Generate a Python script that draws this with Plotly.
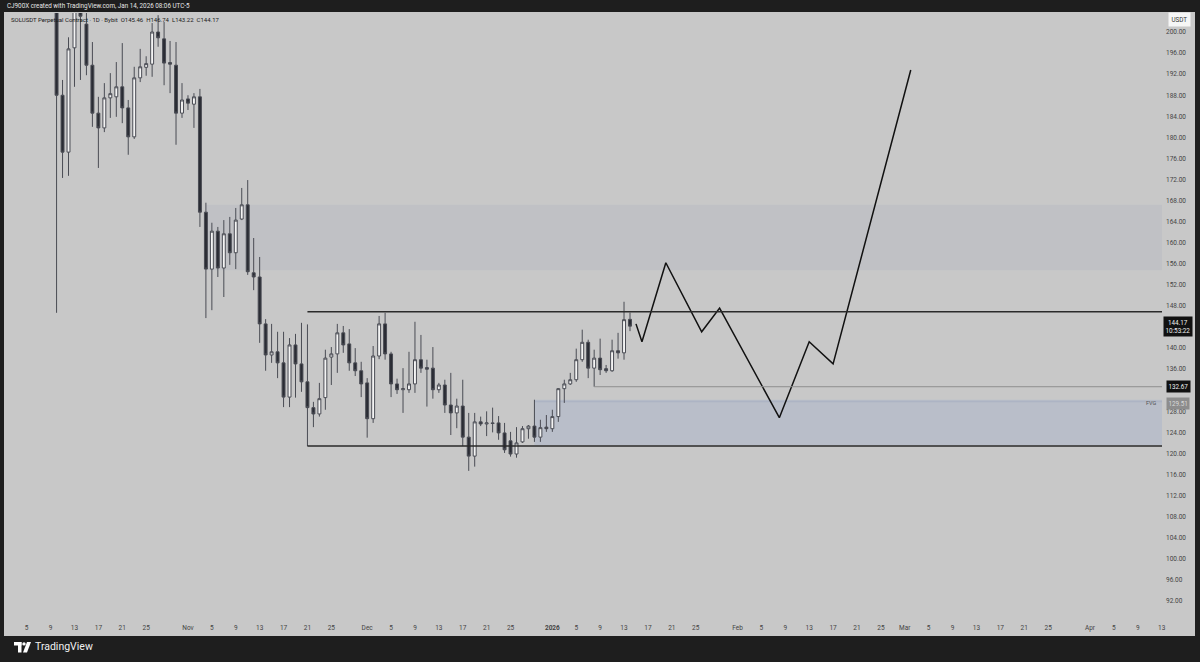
import plotly.graph_objects as go

# ---------------- data ----------------
dates = [
    "2025-10-10", "2025-10-11", "2025-10-12", "2025-10-13", "2025-10-14", "2025-10-15", "2025-10-16",
    "2025-10-17", "2025-10-18", "2025-10-19", "2025-10-20", "2025-10-21", "2025-10-22", "2025-10-23",
    "2025-10-24", "2025-10-25", "2025-10-26", "2025-10-27", "2025-10-28", "2025-10-29", "2025-10-30",
    "2025-10-31", "2025-11-01", "2025-11-02", "2025-11-03", "2025-11-04", "2025-11-05", "2025-11-06",
    "2025-11-07", "2025-11-08", "2025-11-09", "2025-11-10", "2025-11-11", "2025-11-12", "2025-11-13",
    "2025-11-14", "2025-11-15", "2025-11-16", "2025-11-17", "2025-11-18", "2025-11-19", "2025-11-20",
    "2025-11-21", "2025-11-22", "2025-11-23", "2025-11-24", "2025-11-25", "2025-11-26", "2025-11-27",
    "2025-11-28", "2025-11-29", "2025-11-30", "2025-12-01", "2025-12-02", "2025-12-03", "2025-12-04",
    "2025-12-05", "2025-12-06", "2025-12-07", "2025-12-08", "2025-12-09", "2025-12-10", "2025-12-11",
    "2025-12-12", "2025-12-13", "2025-12-14", "2025-12-15", "2025-12-16", "2025-12-17", "2025-12-18",
    "2025-12-19", "2025-12-20", "2025-12-21", "2025-12-22", "2025-12-23", "2025-12-24", "2025-12-25",
    "2025-12-26", "2025-12-27", "2025-12-28", "2025-12-29", "2025-12-30", "2025-12-31", "2026-01-01",
    "2026-01-02", "2026-01-03", "2026-01-04", "2026-01-05", "2026-01-06", "2026-01-07", "2026-01-08",
    "2026-01-09", "2026-01-10", "2026-01-11", "2026-01-12", "2026-01-13", "2026-01-14",
]
opens = [
    218.5, 188.0, 177.2, 197.0, 207.0, 201.5, 193.7,
    184.6, 181.8, 187.5, 187.7, 189.6, 185.6, 180.1,
    191.3, 193.3, 193.9, 200.0, 198.7, 194.2, 193.7,
    184.6, 187.3, 186.3, 187.7, 165.8, 155.0, 162.2,
    155.2, 161.7, 158.1, 164.5, 167.2, 154.3, 153.5,
    144.6, 138.7, 139.3, 137.2, 130.7, 140.6, 137.0,
    133.6, 128.7, 127.5, 130.6, 138.3, 138.9, 142.9,
    140.8, 137.2, 135.7, 133.4, 126.6, 138.5, 144.6,
    138.9, 133.2, 132.1, 132.1, 133.2, 137.8, 136.3,
    136.2, 132.1, 133.0, 129.2, 127.7, 129.0, 123.1,
    119.5, 126.0, 125.6, 125.8, 125.8, 123.9, 122.4,
    119.9, 122.2, 124.7, 125.2, 123.1, 125.0, 124.7,
    127.0, 132.3, 133.2, 134.0, 137.8, 141.1, 136.2,
    138.1, 136.1, 135.7, 139.5, 139.1, 145.46,
]
highs = [
    222.0, 190.9, 199.0, 210.0, 210.0, 204.5, 198.1,
    187.7, 190.3, 192.2, 194.3, 197.9, 187.1, 193.4,
    196.8, 195.4, 201.7, 203.2, 201.9, 198.3, 198.1,
    190.3, 188.0, 188.4, 189.2, 167.6, 163.8, 163.0,
    164.3, 164.9, 166.6, 170.4, 171.9, 160.9, 157.3,
    145.5, 144.6, 143.1, 143.1, 141.9, 142.7, 144.8,
    144.5, 129.8, 133.4, 139.7, 140.2, 144.6, 144.2,
    143.6, 140.0, 137.4, 134.3, 140.4, 146.1, 146.7,
    139.3, 134.2, 136.2, 139.3, 145.0, 142.5, 137.8,
    140.2, 133.4, 134.0, 135.3, 130.4, 134.0, 127.7,
    127.7, 127.0, 128.0, 128.7, 127.1, 125.8, 124.1,
    125.0, 125.2, 125.4, 130.2, 126.4, 127.3, 128.3,
    132.4, 134.0, 135.3, 139.9, 143.5, 141.6, 139.7,
    141.8, 136.8, 141.6, 142.9, 148.8, 146.74,
]
lows = [
    146.7, 172.3, 172.7, 189.6, 190.9, 191.8, 182.0,
    174.2, 181.0, 183.7, 183.9, 182.7, 176.7, 179.7,
    190.5, 191.7, 191.5, 197.2, 189.9, 188.4, 178.6,
    183.7, 185.2, 181.8, 163.0, 145.7, 147.2, 153.5,
    149.7, 155.8, 155.0, 164.3, 153.9, 151.0, 141.0,
    135.7, 137.2, 134.3, 128.8, 128.8, 130.6, 131.7,
    121.4, 125.0, 127.0, 128.3, 133.0, 135.3, 139.1,
    135.7, 134.7, 130.7, 123.0, 125.8, 137.9, 137.8,
    130.7, 131.3, 127.7, 131.5, 131.5, 135.3, 128.9,
    130.4, 131.5, 127.7, 123.5, 124.8, 121.4, 116.7,
    117.5, 125.2, 123.3, 124.0, 122.6, 120.1, 119.4,
    119.2, 122.0, 122.8, 122.2, 122.2, 124.1, 124.1,
    126.0, 129.6, 133.0, 133.6, 137.4, 134.3, 132.67,
    134.9, 135.3, 135.5, 138.0, 137.8, 143.22,
]
closes = [
    188.0, 177.2, 196.8, 206.0, 203.0, 193.7, 184.6,
    181.8, 187.5, 188.3, 189.6, 185.6, 180.1, 191.3,
    193.4, 194.0, 200.0, 198.9, 194.1, 193.9, 184.6,
    187.1, 186.5, 187.7, 165.8, 155.0, 162.2, 155.2,
    161.7, 158.1, 164.3, 167.2, 154.5, 153.5, 144.6,
    138.7, 139.3, 137.2, 130.7, 140.6, 137.0, 133.6,
    128.7, 127.5, 130.4, 138.1, 138.9, 142.9, 140.6,
    137.2, 135.7, 133.2, 126.6, 138.5, 144.6, 138.9,
    133.2, 132.1, 132.3, 133.2, 137.8, 136.2, 136.0,
    132.1, 133.0, 129.2, 127.7, 129.0, 123.1, 119.5,
    126.0, 125.6, 125.8, 125.7, 123.9, 120.7, 119.9,
    122.0, 124.7, 125.2, 123.1, 124.9, 124.7, 127.0,
    132.3, 133.2, 134.0, 137.8, 141.1, 136.2, 138.1,
    135.9, 135.7, 139.5, 139.1, 145.4, 144.17,
]

# projected path (drawn path)
proj_dates = ["2026-01-15", "2026-01-16", "2026-01-20", "2026-01-26", "2026-01-29",
              "2026-02-08", "2026-02-13", "2026-02-17", "2026-03-02"]
proj_prices = [144.6, 141.2, 156.2, 143.1, 147.6, 126.8, 141.2, 137.0, 192.8]

# zones / levels
supply_start, supply_low, supply_high = "2025-11-04", 154.8, 167.2
fvg_start, fvg_low, fvg_high = "2025-12-29", 121.6, 130.2
range_start, range_high, range_low = "2025-11-21", 146.9, 121.4
level_start, level_price = "2026-01-08", 132.67

last_price, countdown = 144.17, "10:53:22"
fvg_label = 129.51

price_ticks = [200, 196, 192, 188, 184, 180, 176, 172, 168, 164, 160, 156, 152, 148,
               140, 136, 128, 124, 120, 116, 112, 108, 104, 100, 96, 92]

tick_months = ["2025-10", "2025-11", "2025-12", "2026-01", "2026-02", "2026-03", "2026-04"]
tick_month_names = ["Oct", "Nov", "Dec", "<b>2026</b>", "Feb", "Mar", "Apr"]
tick_days = [5, 9, 13, 17, 21, 25]

x_start, x_end = "2025-10-01 04:48", "2026-04-13 01:30"
y_low, y_high = 88.58, 203.61

# ---------------- styling helpers ----------------
BG = "#c8c8c8"
DARK = "#1e1e1e"
PL, PR, PT, PB = 4, 1162, 13, 619  # plot area in pixels


def px(x):
    return (x - PL) / (PR - PL)


def py(y):
    return (PB - y) / (PB - PT)


tickvals, ticktext = [], []
for m, name in zip(tick_months, tick_month_names):
    tickvals.append(m + "-01")
    ticktext.append(name)
    for d in tick_days:
        if m == "2026-04" and d > 13:
            continue
        tickvals.append(f"{m}-{d:02d}")
        ticktext.append(str(d))
    if m == "2026-04":
        tickvals.append("2026-04-13")
        ticktext.append("13")

fig = go.Figure()

fig.add_trace(go.Candlestick(
    x=dates, open=opens, high=highs, low=lows, close=closes,
    increasing=dict(line=dict(color="#4a4c54", width=1), fillcolor="#f4f4f4"),
    decreasing=dict(line=dict(color="#4a4c54", width=1), fillcolor="#2a2c34"),
    whiskerwidth=0, showlegend=False, hoverinfo="skip",
))

fig.add_trace(go.Scatter(
    x=proj_dates, y=proj_prices, mode="lines",
    line=dict(color="#111111", width=1.5), showlegend=False, hoverinfo="skip",
))

shapes = [
    # chart panel background
    dict(type="rect", xref="paper", yref="paper", x0=px(4), x1=px(1195), y0=py(636), y1=py(12),
         fillcolor=BG, line=dict(width=0), layer="below"),
    # supply zone
    dict(type="rect", xref="x", yref="y", x0=supply_start, x1=x_end, y0=supply_low, y1=supply_high,
         fillcolor="#c0c1c5", line=dict(width=0), layer="below"),
    # FVG
    dict(type="rect", xref="x", yref="y", x0=fvg_start, x1=x_end, y0=fvg_low, y1=fvg_high,
         fillcolor="#b9bec9", line=dict(width=0), layer="below"),
    dict(type="line", xref="x", yref="y", x0=fvg_start, x1=x_end, y0=fvg_high - 0.35, y1=fvg_high - 0.35,
         line=dict(color="#adb4c4", width=1.5), layer="below"),
    # range lines
    dict(type="line", xref="x", yref="y", x0=range_start, x1=x_end, y0=range_high, y1=range_high,
         line=dict(color="#2a2a2a", width=1.3)),
    dict(type="line", xref="x", yref="y", x0=range_start, x1=x_end, y0=range_low, y1=range_low,
         line=dict(color="#2a2a2a", width=1.5)),
    # level line
    dict(type="line", xref="x", yref="y", x0=level_start, x1=x_end, y0=level_price, y1=level_price,
         line=dict(color="#8f8f8f", width=1)),
    # TradingView logo (bottom bar)
    dict(type="rect", xref="paper", yref="paper", x0=px(14), x1=px(21.5), y0=py(645.5), y1=py(642),
         fillcolor="#ffffff", line=dict(width=0)),
    dict(type="rect", xref="paper", yref="paper", x0=px(18), x1=px(21.5), y0=py(652.5), y1=py(642),
         fillcolor="#ffffff", line=dict(width=0)),
    dict(type="circle", xref="paper", yref="paper", x0=px(22.3), x1=px(25.7), y0=py(645.6), y1=py(642.2),
         fillcolor="#ffffff", line=dict(width=0)),
    dict(type="path", xref="paper", yref="paper",
         path=f"M {px(27)} {py(642)} L {px(31)} {py(642)} L {px(27)} {py(652.5)} L {px(23)} {py(652.5)} Z",
         fillcolor="#ffffff", line=dict(width=0)),
]

FONT = "Roboto, Inter, sans-serif"
annotations = [
    dict(xref="paper", yref="paper", x=px(5), y=py(6), xanchor="left", yanchor="middle",
         text="CJ900X created with TradingView.com, Jan 14, 2026 08:06 UTC-5",
         showarrow=False, font=dict(color="#e6e6e6", size=6.3, family=FONT)),
    dict(xref="paper", yref="paper", x=px(9), y=py(20), xanchor="left", yanchor="middle",
         text="SOLUSDT Perpetual Contract · 1D · Bybit  O145.46  H146.74  L143.22  C144.17",
         showarrow=False, font=dict(color="#1a1a1a", size=6.0, family=FONT)),
    dict(xref="paper", yref="paper", x=px(33), y=py(647), xanchor="left", yanchor="middle",
         text="TradingView", showarrow=False, font=dict(color="#f0f0f0", size=10.5, family=FONT)),
    dict(xref="paper", yref="paper", x=px(1179), y=py(20), xanchor="center", yanchor="middle",
         text="USDT", showarrow=False, bgcolor="#f6f6f6", borderpad=2.5,
         font=dict(color="#333333", size=6.3, family=FONT)),
    dict(xref="paper", yref="y", x=px(1178), y=last_price, xanchor="center", yanchor="middle",
         text=f"{last_price:.2f}<br>{countdown}", showarrow=False, bgcolor="#111111", borderpad=1.5,
         font=dict(color="#f0f0f0", size=6.3, family=FONT)),
    dict(xref="paper", yref="y", x=px(1178), y=level_price, xanchor="center", yanchor="middle",
         text=f"{level_price:.2f}", showarrow=False, bgcolor="#111111", borderpad=1.5,
         font=dict(color="#f0f0f0", size=6.3, family=FONT)),
    dict(xref="paper", yref="y", x=px(1178), y=fvg_label, xanchor="center", yanchor="middle",
         text=f"{fvg_label:.2f}", showarrow=False, bgcolor="#8d8d8d", borderpad=1.5,
         font=dict(color="#d9d9d9", size=6.3, family=FONT)),
    dict(xref="paper", yref="y", x=px(1159), y=fvg_label, xanchor="right", yanchor="middle",
         text="FVG", showarrow=False, font=dict(color="#555555", size=5.5, family=FONT)),
]

fig.update_layout(
    width=1200, height=662,
    margin=dict(l=PL, r=1200 - PR, t=PT, b=662 - PB, pad=0),
    paper_bgcolor=DARK, plot_bgcolor=BG,
    shapes=shapes, annotations=annotations,
    showlegend=False,
    xaxis=dict(
        type="date", range=[x_start, x_end], rangeslider=dict(visible=False),
        tickmode="array", tickvals=tickvals, ticktext=ticktext,
        showgrid=False, zeroline=False, showline=False, ticks="", ticklabelstandoff=3,
        tickfont=dict(color="#444444", size=6.5, family=FONT), fixedrange=True,
    ),
    yaxis=dict(
        side="right", range=[y_low, y_high], tickmode="array", tickvals=price_ticks,
        ticktext=[f"{v:.2f}" for v in price_ticks],
        showgrid=False, zeroline=False, showline=False, ticks="", ticklabelstandoff=3,
        tickfont=dict(color="#444444", size=6.5, family=FONT), fixedrange=True,
    ),
)

fig.write_html(
    "out.html",
    config={"displayModeBar": False},
    post_script="document.body.style.margin='0';document.body.style.background='#1e1e1e';",
)
